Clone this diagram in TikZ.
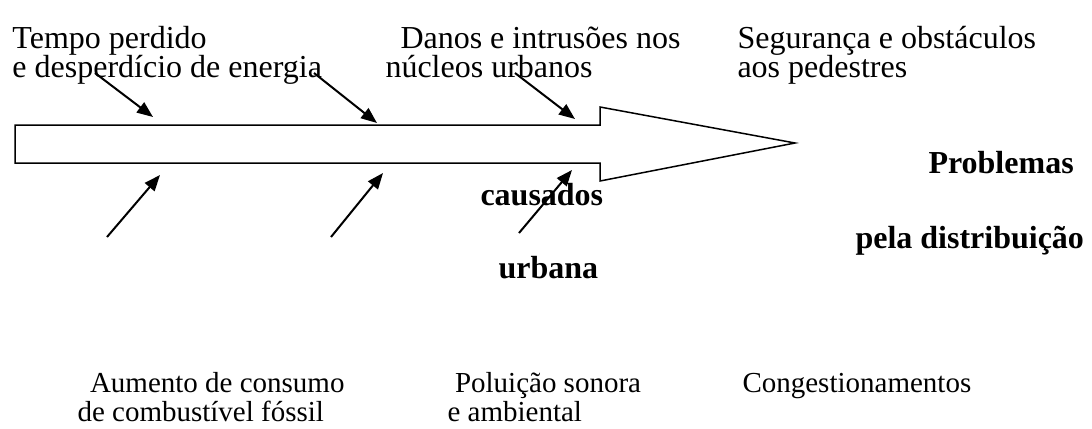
\documentclass[tikz,border=0pt]{standalone}
\usepackage{fontspec}
\setmainfont{Liberation Serif}
\usetikzlibrary{arrows.meta}
\setlength{\lineskiplimit}{-100pt}
\begin{document}
\begin{tikzpicture}[x=0.4pt, y=-0.4pt,
  txt/.style={anchor=base west, align=left, inner sep=0pt, font=\fontsize{12.8}{11.4}\selectfont},
  lowtxt/.style={txt, font=\fontsize{11.6}{11.4}\selectfont},
  btxt/.style={txt, font=\fontsize{12.8}{11.4}\selectfont\bfseries},
  cause/.style={-{Triangle[length=6.4pt,width=5pt]}, line width=0.8pt}]
\useasboundingbox (0,0) rectangle (1092,428);
% big arrow
\draw[line width=0.6pt] (15,125) -- (600,125) -- (600,107) -- (795,143) -- (600,181) -- (600,163) -- (15,163) -- cycle;
% texts (base = last line)
\node[txt] (tempo) at (12,77) {Tempo perdido\\e desperdício de energia};
\node[txt] (danos) at (385,77) {\hspace*{6pt}Danos e intrusões nos\\núcleos urbanos};
\node[txt] (seg) at (737,77) {Segurança e obstáculos\\aos pedestres};
\node[btxt] (prob) at (928,173) {Problemas};
\node[btxt] (caus) at (480,205) {causados};
\node[btxt] (pela) at (855,248) {pela distribuição};
\node[btxt] (urb) at (498,278) {urbana};
\node[lowtxt] (aum) at (77,421) {\hspace*{5pt}Aumento de consumo\\de combustível fóssil};
\node[lowtxt] (pol) at (447,421) {\hspace*{3pt}Poluição sonora\\e ambiental};
\node[lowtxt] (cong) at (742,392) {Congestionamentos};
% small arrows
\coordinate (t1a) at (95,73);   \coordinate (t1b) at (153,117);
\coordinate (t2a) at (314,73);  \coordinate (t2b) at (377,123);
\coordinate (t3a) at (515,73);  \coordinate (t3b) at (575,119);
\coordinate (b1a) at (107,237); \coordinate (b1b) at (160,175);
\coordinate (b2a) at (331,237); \coordinate (b2b) at (383,173);
\coordinate (b3a) at (519,233); \coordinate (b3b) at (572,170);
\draw[cause] (t1a) -- (t1b);
\draw[cause] (t2a) -- (t2b);
\draw[cause] (t3a) -- (t3b);
\draw[cause] (b1a) -- (b1b);
\draw[cause] (b2a) -- (b2b);
\draw[cause] (b3a) -- (b3b);
\end{tikzpicture}
\end{document}
